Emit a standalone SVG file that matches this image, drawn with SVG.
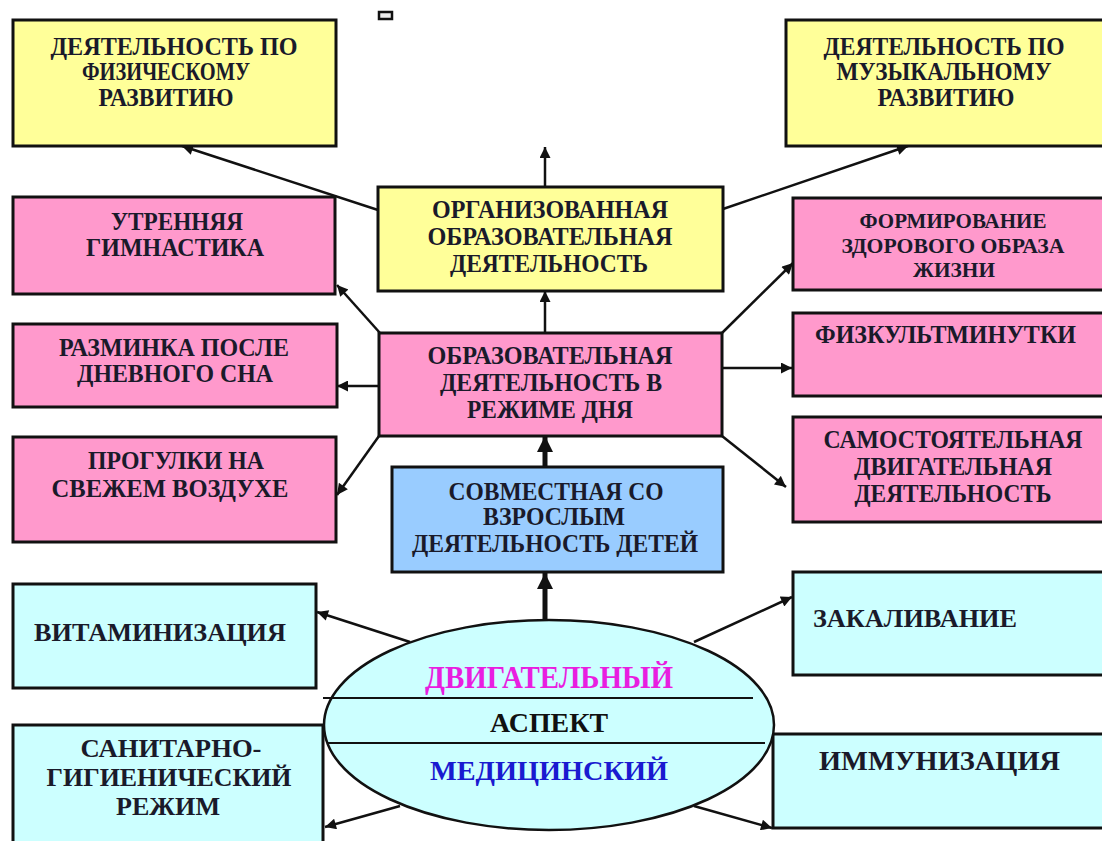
<svg xmlns="http://www.w3.org/2000/svg" width="1102" height="841" viewBox="0 0 1102 841">
<defs>
<style>
.box{stroke:#111;stroke-width:3}
.y{fill:#ffff99}.p{fill:#ff99cc}.b{fill:#99ccff}.c{fill:#ccffff}
text{font-family:"Liberation Serif","DejaVu Serif","Noto Serif","Times New Roman",serif;font-weight:bold;fill:#1a1a2a;text-anchor:middle}
.t{font-size:25px}
.s{font-size:21px}
.m{font-size:25px}
.l{text-anchor:start}
.ln{stroke:#111;stroke-width:2.5;fill:none}
.th{stroke:#111;stroke-width:5;fill:none}
</style>
<marker id="ah" viewBox="0 0 10 10" refX="10" refY="5" markerWidth="13" markerHeight="11" markerUnits="userSpaceOnUse" orient="auto"><path d="M0,0 L10,5 L0,10 z" fill="#111"/></marker>
<marker id="ahb" viewBox="0 0 10 10" refX="10" refY="5" markerWidth="16" markerHeight="18" markerUnits="userSpaceOnUse" orient="auto"><path d="M0,0 L10,5 L0,10 z" fill="#111"/></marker>
</defs>
<rect width="1102" height="841" fill="#fff"/>
<rect x="379" y="12" width="13" height="7" fill="#eee" stroke="#111" stroke-width="2.5"/>

<g id="connectors">
<line class="ln" x1="378" y1="210" x2="182" y2="146" marker-end="url(#ah)"/>
<line class="ln" x1="723" y1="209" x2="908" y2="146" marker-end="url(#ah)"/>
<line class="ln" x1="545" y1="187" x2="545" y2="147" marker-end="url(#ah)"/>
<line class="ln" x1="545" y1="333" x2="545" y2="291" marker-end="url(#ah)"/>
<line class="ln" x1="380" y1="333" x2="337" y2="285" marker-end="url(#ah)"/>
<line class="ln" x1="379" y1="386" x2="337" y2="386" marker-end="url(#ah)"/>
<line class="ln" x1="379" y1="436" x2="337" y2="495" marker-end="url(#ah)"/>
<line class="ln" x1="722" y1="333" x2="793" y2="263" marker-end="url(#ah)"/>
<line class="ln" x1="722" y1="368" x2="792" y2="368" marker-end="url(#ah)"/>
<line class="ln" x1="722" y1="436" x2="786" y2="487" marker-end="url(#ah)"/>
<line class="th" x1="545" y1="467" x2="545" y2="436" marker-end="url(#ahb)"/>
<line class="th" x1="545" y1="621" x2="545" y2="573" marker-end="url(#ahb)"/>
<line class="ln" x1="410" y1="642" x2="317" y2="612" marker-end="url(#ah)"/>
<line class="ln" x1="400" y1="806" x2="325" y2="827" marker-end="url(#ah)"/>
<line class="ln" x1="694" y1="642" x2="792" y2="597" marker-end="url(#ah)"/>
<line class="ln" x1="694" y1="806" x2="772" y2="828" marker-end="url(#ah)"/>
</g>

<g id="fiz">
<rect class="box y" x="13" y="20" width="323" height="126"/>
<text class="t" x="174" y="55" textLength="247" lengthAdjust="spacingAndGlyphs">ДЕЯТЕЛЬНОСТЬ ПО</text>
<text class="t" x="166" y="80" textLength="168" lengthAdjust="spacingAndGlyphs">ФИЗИЧЕСКОМУ</text>
<text class="t" x="166" y="106" textLength="135" lengthAdjust="spacingAndGlyphs">РАЗВИТИЮ</text>
</g>
<g id="muz">
<rect class="box y" x="786" y="20" width="322" height="126"/>
<text class="t" x="944" y="55" textLength="241" lengthAdjust="spacingAndGlyphs">ДЕЯТЕЛЬНОСТЬ ПО</text>
<text class="t" x="944" y="80" textLength="215" lengthAdjust="spacingAndGlyphs">МУЗЫКАЛЬНОМУ</text>
<text class="t" x="946" y="106" textLength="137" lengthAdjust="spacingAndGlyphs">РАЗВИТИЮ</text>
</g>
<g id="org">
<rect class="box y" x="378" y="187" width="345" height="104"/>
<text class="t" x="550" y="218" textLength="236" lengthAdjust="spacingAndGlyphs">ОРГАНИЗОВАННАЯ</text>
<text class="t" x="550" y="245" textLength="245" lengthAdjust="spacingAndGlyphs">ОБРАЗОВАТЕЛЬНАЯ</text>
<text class="t" x="549" y="272" textLength="198" lengthAdjust="spacingAndGlyphs">ДЕЯТЕЛЬНОСТЬ</text>
</g>
<g id="utr">
<rect class="box p" x="13" y="197" width="322" height="97"/>
<text class="t" x="177" y="230" textLength="132" lengthAdjust="spacingAndGlyphs">УТРЕННЯЯ</text>
<text class="t" x="175" y="256" textLength="178" lengthAdjust="spacingAndGlyphs">ГИМНАСТИКА</text>
</g>
<g id="razm">
<rect class="box p" x="13" y="324" width="324" height="83"/>
<text class="t" x="174" y="356" textLength="230" lengthAdjust="spacingAndGlyphs">РАЗМИНКА ПОСЛЕ</text>
<text class="t" x="175" y="382" textLength="196" lengthAdjust="spacingAndGlyphs">ДНЕВНОГО СНА</text>
</g>
<g id="prog">
<rect class="box p" x="13" y="437" width="323" height="105"/>
<text class="t" x="176" y="469" textLength="176" lengthAdjust="spacingAndGlyphs">ПРОГУЛКИ НА</text>
<text class="t" x="170" y="497" textLength="237" lengthAdjust="spacingAndGlyphs">СВЕЖЕМ ВОЗДУХЕ</text>
</g>
<g id="obr">
<rect class="box p" x="379" y="333" width="343" height="103"/>
<text class="t" x="550" y="364" textLength="245" lengthAdjust="spacingAndGlyphs">ОБРАЗОВАТЕЛЬНАЯ</text>
<text class="t" x="551" y="391" textLength="222" lengthAdjust="spacingAndGlyphs">ДЕЯТЕЛЬНОСТЬ В</text>
<text class="t" x="550" y="418" textLength="166" lengthAdjust="spacingAndGlyphs">РЕЖИМЕ ДНЯ</text>
</g>
<g id="form">
<rect class="box p" x="793" y="198" width="315" height="92"/>
<text class="s" x="953" y="228" textLength="187" lengthAdjust="spacingAndGlyphs">ФОРМИРОВАНИЕ</text>
<text class="s" x="953" y="253" textLength="223" lengthAdjust="spacingAndGlyphs">ЗДОРОВОГО ОБРАЗА</text>
<text class="s" x="954" y="277" textLength="82" lengthAdjust="spacingAndGlyphs">ЖИЗНИ</text>
</g>
<g id="fizk">
<rect class="box p" x="793" y="313" width="315" height="83"/>
<text class="t l" x="815" y="343" textLength="261" lengthAdjust="spacingAndGlyphs">ФИЗКУЛЬТМИНУТКИ</text>
</g>
<g id="sam">
<rect class="box p" x="793" y="417" width="315" height="105"/>
<text class="t" x="953" y="448" textLength="259" lengthAdjust="spacingAndGlyphs">САМОСТОЯТЕЛЬНАЯ</text>
<text class="t" x="953" y="475" textLength="198" lengthAdjust="spacingAndGlyphs">ДВИГАТЕЛЬНАЯ</text>
<text class="t" x="953" y="502" textLength="197" lengthAdjust="spacingAndGlyphs">ДЕЯТЕЛЬНОСТЬ</text>
</g>
<g id="sovm">
<rect class="box b" x="392" y="467" width="331" height="105"/>
<text class="t" x="556" y="500" textLength="215" lengthAdjust="spacingAndGlyphs">СОВМЕСТНАЯ СО</text>
<text class="t" x="554" y="525" textLength="142" lengthAdjust="spacingAndGlyphs">ВЗРОСЛЫМ</text>
<text class="t" x="555" y="552" textLength="286" lengthAdjust="spacingAndGlyphs">ДЕЯТЕЛЬНОСТЬ ДЕТЕЙ</text>
</g>
<g id="vit">
<rect class="box c" x="13" y="584" width="303" height="104"/>
<text class="m l" x="34" y="641" textLength="252" lengthAdjust="spacingAndGlyphs">ВИТАМИНИЗАЦИЯ</text>
</g>
<g id="san">
<rect class="box c" x="13" y="725" width="310" height="130"/>
<text class="m" x="171" y="757" textLength="181" lengthAdjust="spacingAndGlyphs">САНИТАРНО-</text>
<text class="m" x="169" y="786" textLength="245" lengthAdjust="spacingAndGlyphs">ГИГИЕНИЧЕСКИЙ</text>
<text class="m" x="168" y="815" textLength="104" lengthAdjust="spacingAndGlyphs">РЕЖИМ</text>
</g>
<g id="zak">
<rect class="box c" x="793" y="572" width="315" height="103"/>
<text class="m l" x="813" y="627" textLength="204" lengthAdjust="spacingAndGlyphs">ЗАКАЛИВАНИЕ</text>
</g>
<g id="imm">
<rect class="box c" x="773" y="734" width="335" height="94"/>
<text class="m l" x="819" y="770" style="font-size:27px" textLength="241" lengthAdjust="spacingAndGlyphs">ИММУНИЗАЦИЯ</text>
</g>
<g id="aspect">
<ellipse cx="549" cy="725" rx="225" ry="105" fill="#ccffff" stroke="#111" stroke-width="2.5"/>
<line x1="323" y1="698" x2="753" y2="698" stroke="#111" stroke-width="2"/>
<line x1="327" y1="743" x2="765" y2="743" stroke="#111" stroke-width="2"/>
<text x="549" y="688" style="font-size:32px;fill:#e81ee0" textLength="248" lengthAdjust="spacingAndGlyphs">ДВИГАТЕЛЬНЫЙ</text>
<text x="549" y="732" style="font-size:27px;fill:#111" textLength="118" lengthAdjust="spacingAndGlyphs">АСПЕКТ</text>
<text x="549" y="780" style="font-size:27px;fill:#1a1ad0" textLength="238" lengthAdjust="spacingAndGlyphs">МЕДИЦИНСКИЙ</text>
</g>
</svg>
